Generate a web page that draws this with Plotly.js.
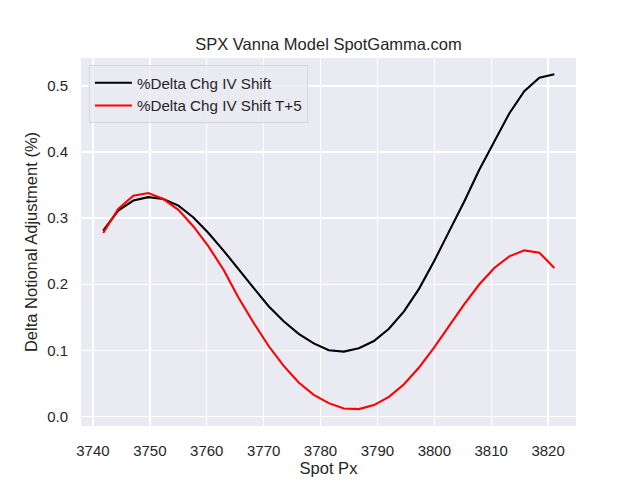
<!DOCTYPE html>
<html>
<head>
<meta charset="utf-8">
<script src="https://cdn.plot.ly/plotly-3.0.1.min.js"></script>
<style>html,body{margin:0;padding:0;background:#fff;}#chart{width:640px;height:480px;}</style>
</head>
<body>
<div id="chart"></div>
<script>
const spotPx = [3741.8, 3744.44, 3747.09, 3749.73, 3752.37, 3755.02, 3757.66, 3760.3, 3762.95, 3765.59,
  3768.23, 3770.88, 3773.52, 3776.16, 3778.81, 3781.45, 3784.09, 3786.74, 3789.38, 3792.02,
  3794.67, 3797.31, 3799.95, 3802.6, 3805.24, 3807.88, 3810.53, 3813.17, 3815.81, 3818.46, 3821.1];
const ivShift = [0.281, 0.3116, 0.3267, 0.3318, 0.329, 0.319, 0.301, 0.2775, 0.251, 0.222,
  0.1945, 0.1668, 0.144, 0.125, 0.1105, 0.100, 0.098, 0.103, 0.114, 0.1327,
  0.159, 0.193, 0.2347, 0.280, 0.325, 0.373, 0.417, 0.4585, 0.4922, 0.5128, 0.5178];
const ivShiftT5 = [0.2775, 0.314, 0.334, 0.338, 0.329, 0.3127, 0.2875, 0.2573, 0.222, 0.1795,
  0.1417, 0.1065, 0.0763, 0.0513, 0.0326, 0.020, 0.012, 0.011, 0.017, 0.0296,
  0.0487, 0.0739, 0.104, 0.1367, 0.1694, 0.1996, 0.2247, 0.2423, 0.2513, 0.2478, 0.2247];
const seriesNames = ['%Delta Chg IV Shift', '%Delta Chg IV Shift T+5'];
const xTicks = [3740, 3750, 3760, 3770, 3780, 3790, 3800, 3810, 3820];
const yTicks = [0.0, 0.1, 0.2, 0.3, 0.4, 0.5];
const yTickLabels = ['0.0', '0.1', '0.2', '0.3', '0.4', '0.5'];

const font = 'Liberation Sans, Arial, sans-serif';
const traces = [
  {x: spotPx, y: ivShift, name: seriesNames[0], type: 'scatter', mode: 'lines',
   line: {color: '#000000', width: 2.1}},
  {x: spotPx, y: ivShiftT5, name: seriesNames[1], type: 'scatter', mode: 'lines',
   line: {color: '#ff0000', width: 2.1}}
];
const layout = {
  width: 640, height: 480,
  margin: {l: 81, r: 64, t: 58, b: 54},
  paper_bgcolor: '#ffffff',
  plot_bgcolor: '#eaeaf2',
  font: {family: font, color: '#262626', size: 15},
  title: {text: 'SPX Vanna Model SpotGamma.com', font: {size: 16.5, color: '#262626'},
          x: 0.5, xref: 'paper', y: 0.908, yanchor: 'middle'},
  xaxis: {
    range: [3737.9, 3824.9], tickvals: xTicks, ticktext: xTicks.map(String),
    showgrid: true, gridcolor: '#ffffff', gridwidth: 1.4, zeroline: false,
    showline: false, ticks: 'outside', ticklen: 11, tickcolor: 'rgba(0,0,0,0)',
    tickfont: {size: 15},
    title: {text: 'Spot Px', font: {size: 16.5}, standoff: 1}
  },
  yaxis: {
    range: [-0.0146, 0.5425], tickvals: yTicks, ticktext: yTickLabels,
    showgrid: true, gridcolor: '#ffffff', gridwidth: 1.4, zeroline: false,
    showline: false, ticks: 'outside', ticklen: 9, tickcolor: 'rgba(0,0,0,0)',
    tickfont: {size: 15},
    title: {text: 'Delta Notional Adjustment (%)', font: {size: 16.5}, standoff: 5}
  },
  showlegend: true,
  legend: {
    x: 0.016, y: 0.98, xanchor: 'left', yanchor: 'top',
    bgcolor: 'rgba(234,234,242,0.8)', bordercolor: '#d5d5dc', borderwidth: 1,
    font: {size: 15.2, color: '#262626'}, tracegroupgap: 0, itemwidth: 37
  }
};
Plotly.newPlot('chart', traces, layout, {displayModeBar: false, staticPlot: true});
</script>
</body>
</html>
